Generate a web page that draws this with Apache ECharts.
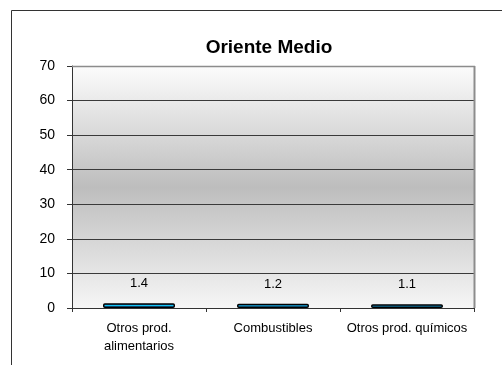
<!DOCTYPE html>
<html>
<head>
<meta charset="utf-8">
<script src="https://cdn.jsdelivr.net/npm/echarts@6/dist/echarts.min.js"></script>
<style>
html,body{margin:0;padding:0;background:#fff;}
#chart{width:502px;height:365px;}
</style>
</head>
<body>
<div id="chart"></div>
<script>
var titleText = 'Oriente Medio';
var categories = ['Otros prod.\nalimentarios', 'Combustibles', 'Otros prod. químicos'];
var values = [1.4, 1.2, 1.1];
var yTicks = {min: 0, max: 70, interval: 10};

var chart = echarts.init(document.getElementById('chart'), null, {renderer: 'canvas'});
var font = '"Liberation Sans", Arial, sans-serif';
chart.setOption({
  animation: false,
  backgroundColor: '#ffffff',
  title: {
    text: titleText,
    left: 264, top: 33, textAlign: 'center',
    textStyle: {fontFamily: font, fontSize: 19, fontWeight: 'bold', color: '#000'}
  },
  graphic: [
    {type: 'rect', shape: {x: 11.5, y: 10.5, width: 600, height: 500},
     style: {fill: null, stroke: '#333', lineWidth: 1}, z: 100, silent: true},
    {type: 'line', shape: {x1: 474.5, y1: 66, x2: 474.5, y2: 308}, style: {stroke: '#8c8c8c', lineWidth: 2}, z: 50},
    {type: 'line', shape: {x1: 72, y1: 66.5, x2: 475, y2: 66.5}, style: {stroke: '#8c8c8c', lineWidth: 1.5}, z: 50}
  ],
  grid: {
    left: 72, right: 28, top: 66, bottom: 57,
    show: true, borderWidth: 0,
    backgroundColor: new echarts.graphic.LinearGradient(0, 0, 0, 1, [
      {offset: 0, color: '#fcfcfc'},
      {offset: 0.5, color: '#bdbdbd'},
      {offset: 1, color: '#f6f6f6'}
    ])
  },
  xAxis: {
    type: 'category',
    data: categories,
    axisLine: {show: true, lineStyle: {color: '#333', width: 1}},
    axisTick: {show: true, length: 4, alignWithLabel: false, lineStyle: {color: '#333'}},
    axisLabel: {fontFamily: font, fontSize: 13, color: '#000', margin: 11, lineHeight: 18, interval: 0}
  },
  yAxis: {
    type: 'value',
    min: yTicks.min, max: yTicks.max, interval: yTicks.interval,
    axisLine: {show: true, lineStyle: {color: '#333', width: 1}},
    axisTick: {show: true, length: 5, lineStyle: {color: '#333'}},
    axisLabel: {fontFamily: font, fontSize: 14, color: '#000', margin: 17},
    splitLine: {show: true, lineStyle: {color: '#3a3a3a', width: 1}}
  },
  series: [{
    type: 'bar',
    data: values,
    barWidth: 72,
    itemStyle: {
      color: new echarts.graphic.LinearGradient(0, 0, 0, 1, [
        {offset: 0, color: '#22228a'},
        {offset: 0.5, color: '#12c8f8'},
        {offset: 1, color: '#22228a'}
      ]),
      borderColor: '#000', borderWidth: 1.5, borderRadius: 1
    },
    label: {
      show: true, position: 'top', distance: 13,
      fontFamily: font, fontSize: 13, color: '#000',
      formatter: function (p) { return p.value.toFixed(1); }
    }
  }]
});
</script>
</body>
</html>
